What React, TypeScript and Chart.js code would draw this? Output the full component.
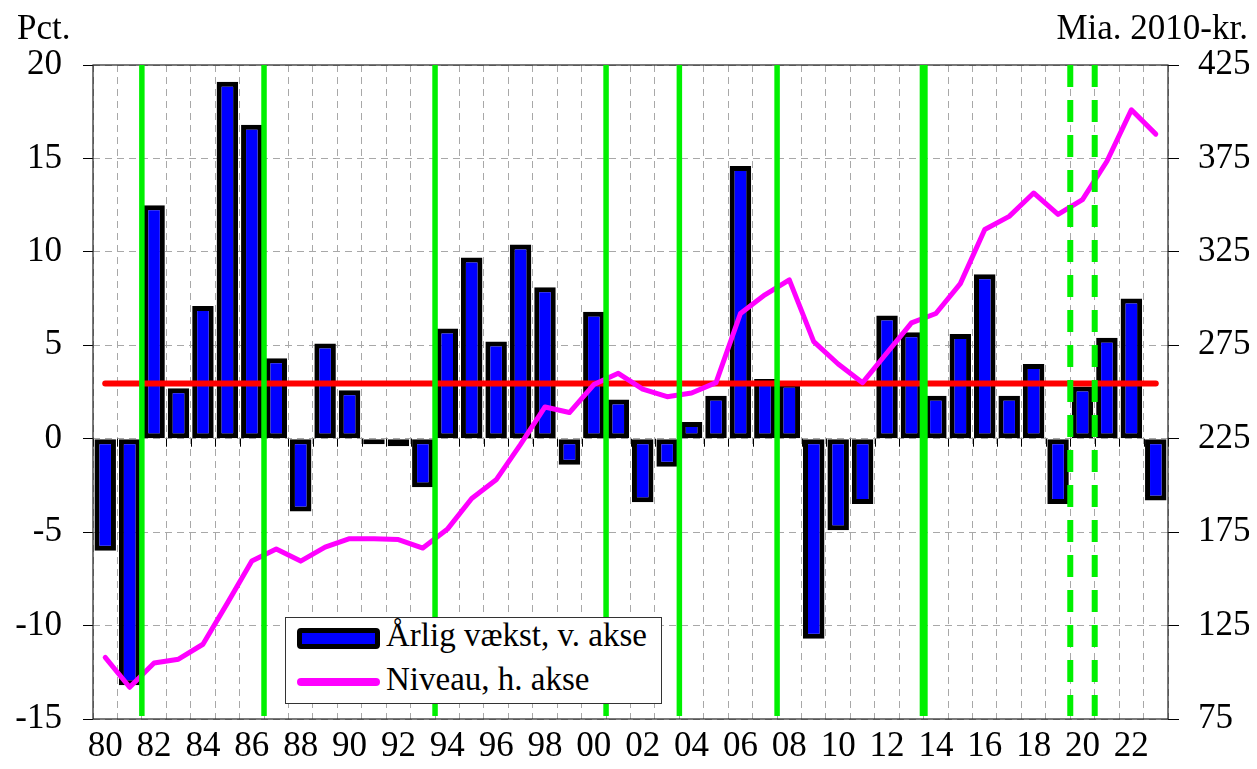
import React, { useEffect, useRef } from 'react';
import { Chart, registerables } from 'chart.js';

Chart.register(...registerables);

// ---- data ----
const years = [
  '80', '81', '82', '83', '84', '85', '86', '87', '88', '89',
  '90', '91', '92', '93', '94', '95', '96', '97', '98', '99',
  '00', '01', '02', '03', '04', '05', '06', '07', '08', '09',
  '10', '11', '12', '13', '14', '15', '16', '17', '18', '19',
  '20', '21', '22', '23',
];

// Årlig vækst (pct., left axis)
const growth = [
  -6.0, -13.2, 12.5, 2.7, 7.1, 19.1, 16.8, 4.3, -3.9, 5.1,
  2.6, -0.3, -0.4, -2.6, 5.9, 9.7, 5.2, 10.4, 8.1, -1.4,
  6.8, 2.1, -3.4, -1.5, 0.9, 2.3, 14.6, 3.2, 3.0, -10.7,
  -4.9, -3.5, 6.6, 5.7, 2.3, 5.6, 8.8, 2.3, 4.0, -3.5,
  2.8, 5.4, 7.5, -3.3,
];

// Niveau (mia. 2010-kr., right axis)
const level = [
  108, 92, 105, 107, 115, 137, 159.5, 166, 159.5, 167,
  171.5, 171.5, 171, 166.5, 176.5, 193, 203, 222, 242, 239,
  254, 260, 251.5, 247.5, 249.5, 255, 292, 302, 310, 277,
  265, 255, 271, 287, 292, 308, 337, 344, 356.5, 345,
  353, 373.5, 401, 388,
];

const avgGrowth = 2.95;

// vertical markers placed after these years
const solidBreakAfter = ['81', '86', '93', '00', '03', '07', '13'];
const thickBreakAfter = ['13'];
const dashedBreakAfter = ['19', '20'];

const leftMin = -15;
const leftMax = 20;
const leftStep = 5;
const rightMin = 75;
const rightMax = 425;
const rightStep = 50;

const FONT = '"Liberation Serif", "Times New Roman", serif';

const overlayPlugin = {
  id: 'overlayPlugin',
  beforeDatasetsDraw(chart: any) {
    const { ctx, chartArea } = chart;
    const xs = chart.scales.x;
    const ys = chart.scales.y;
    const y0 = ys.getPixelForValue(0);
    ctx.save();
    ctx.strokeStyle = '#000';
    ctx.lineWidth = 1;
    ctx.setLineDash([]);
    for (let i = 0; i <= years.length; i++) {
      const x = Math.round(xs.getPixelForValue(i - 0.5)) + 0.5;
      ctx.beginPath();
      ctx.moveTo(x, y0);
      ctx.lineTo(x, y0 + 8);
      ctx.stroke();
    }
    ctx.strokeStyle = '#222';
    ctx.lineWidth = 1.2;
    ctx.strokeRect(chartArea.left, chartArea.top, chartArea.right - chartArea.left, chartArea.bottom - chartArea.top);
    ctx.restore();
  },
  afterDatasetsDraw(chart: any) {
    const { ctx, chartArea } = chart;
    const xs = chart.scales.x;
    ctx.save();
    ctx.strokeStyle = '#00f000';
    const drawAt = (lab: string, width: number, dash: number[]) => {
      const idx = years.indexOf(lab);
      const x = xs.getPixelForValue(idx + 0.5);
      ctx.lineWidth = width;
      ctx.setLineDash(dash);
      ctx.beginPath();
      ctx.moveTo(x, chartArea.top);
      ctx.lineTo(x, chartArea.bottom - 3);
      ctx.stroke();
    };
    solidBreakAfter.forEach((lab) => drawAt(lab, thickBreakAfter.includes(lab) ? 8 : 5.5, []));
    dashedBreakAfter.forEach((lab) => drawAt(lab, 6, [22, 13]));
    ctx.restore();
  },
};

export default function App() {
  const ref = useRef<HTMLCanvasElement | null>(null);

  useEffect(() => {
    if (!ref.current) return;
    const chart = new Chart(ref.current, {
      type: 'bar',
      data: {
        labels: years,
        datasets: [
          {
            type: 'line',
            label: 'Niveau, h. akse',
            data: level,
            yAxisID: 'y2',
            borderColor: '#ff00ff',
            backgroundColor: '#ff00ff',
            borderWidth: 5,
            pointRadius: 0,
            tension: 0,
            borderJoinStyle: 'round',
            borderCapStyle: 'round',
            order: 1,
          } as any,
          {
            type: 'line',
            label: 'Gennemsnit',
            data: [
              { x: years[0], y: avgGrowth },
              { x: years[years.length - 1], y: avgGrowth },
            ],
            yAxisID: 'y',
            borderColor: '#ff0000',
            backgroundColor: '#ff0000',
            borderWidth: 6,
            pointRadius: 0,
            borderCapStyle: 'round',
            order: 2,
          } as any,
          {
            type: 'bar',
            label: 'Årlig vækst, v. akse',
            data: growth,
            yAxisID: 'y',
            backgroundColor: '#0000ff',
            borderColor: '#000000',
            borderWidth: 5,
            borderSkipped: false,
            barPercentage: 0.88,
            categoryPercentage: 1,
            order: 3,
          } as any,
        ],
      },
      options: {
        responsive: false,
        animation: false,
        layout: { padding: { top: 57, left: 0, right: 0, bottom: 0 } },
        plugins: {
          legend: { display: false },
          tooltip: { enabled: false },
          title: { display: false },
        },
        scales: {
          x: {
            type: 'category',
            offset: true,
            grid: { offset: true, color: '#a8a8a8', lineWidth: 1, drawTicks: false },
            border: { display: false, dash: [7, 5] },
            ticks: {
              autoSkip: false,
              maxRotation: 0,
              minRotation: 0,
              padding: 7,
              color: '#000',
              font: { family: FONT, size: 35 },
              callback: (_v: any, i: number) => (i % 2 === 0 ? years[i] : ''),
            },
            afterFit: (s: any) => {
              s.height = 37;
            },
          },
          y: {
            position: 'left',
            min: leftMin,
            max: leftMax,
            ticks: {
              stepSize: leftStep,
              padding: 21,
              color: '#000',
              font: { family: FONT, size: 35 },
            },
            grid: { color: '#a8a8a8', lineWidth: 1, tickColor: '#000', tickLength: 10, drawTicks: true },
            border: { display: false, dash: [7, 5] },
            afterFit: (s: any) => {
              s.width = 85;
            },
          },
          y2: {
            position: 'right',
            min: rightMin,
            max: rightMax,
            ticks: {
              stepSize: rightStep,
              padding: 19,
              color: '#000',
              font: { family: FONT, size: 35 },
            },
            grid: { drawOnChartArea: false, tickColor: '#000', tickLength: 11, drawTicks: true },
            border: { display: false },
            afterFit: (s: any) => {
              s.width = 81;
            },
          },
        },
      } as any,
      plugins: [overlayPlugin],
    });
    return () => chart.destroy();
  }, []);

  const textStyle: React.CSSProperties = {
    position: 'absolute',
    fontFamily: FONT,
    fontSize: 33,
    lineHeight: '33px',
    color: '#000',
    whiteSpace: 'nowrap',
  };
  const titleStyle: React.CSSProperties = { ...textStyle, fontSize: 35, lineHeight: '35px' };

  return (
    <div style={{ position: 'relative', width: 1241, height: 753 }}>
      <canvas ref={ref} width={1241} height={753} style={{ display: 'block' }} />
      <div style={{ ...titleStyle, left: 9, top: 2 }}>Pct.</div>
      <div style={{ ...titleStyle, right: 1, top: 2 }}>Mia. 2010-kr.</div>
      <div
        style={{
          position: 'absolute',
          left: 277,
          top: 609,
          width: 377,
          height: 87,
          boxSizing: 'border-box',
          border: '1.5px solid #333',
          background: '#fff',
        }}
      >
        <div
          style={{
            position: 'absolute',
            left: 11,
            top: 10,
            width: 83,
            height: 21,
            boxSizing: 'border-box',
            border: '5px solid #000',
            borderRadius: 4,
            background: '#0000ff',
          }}
        />
        <div style={{ ...textStyle, left: 100, top: 1 }}>Årlig vækst, v. akse</div>
        <div
          style={{
            position: 'absolute',
            left: 11,
            top: 60,
            width: 83,
            height: 8,
            borderRadius: 4,
            background: '#ff00ff',
          }}
        />
        <div style={{ ...textStyle, left: 100, top: 45 }}>Niveau, h. akse</div>
      </div>
    </div>
  );
}
